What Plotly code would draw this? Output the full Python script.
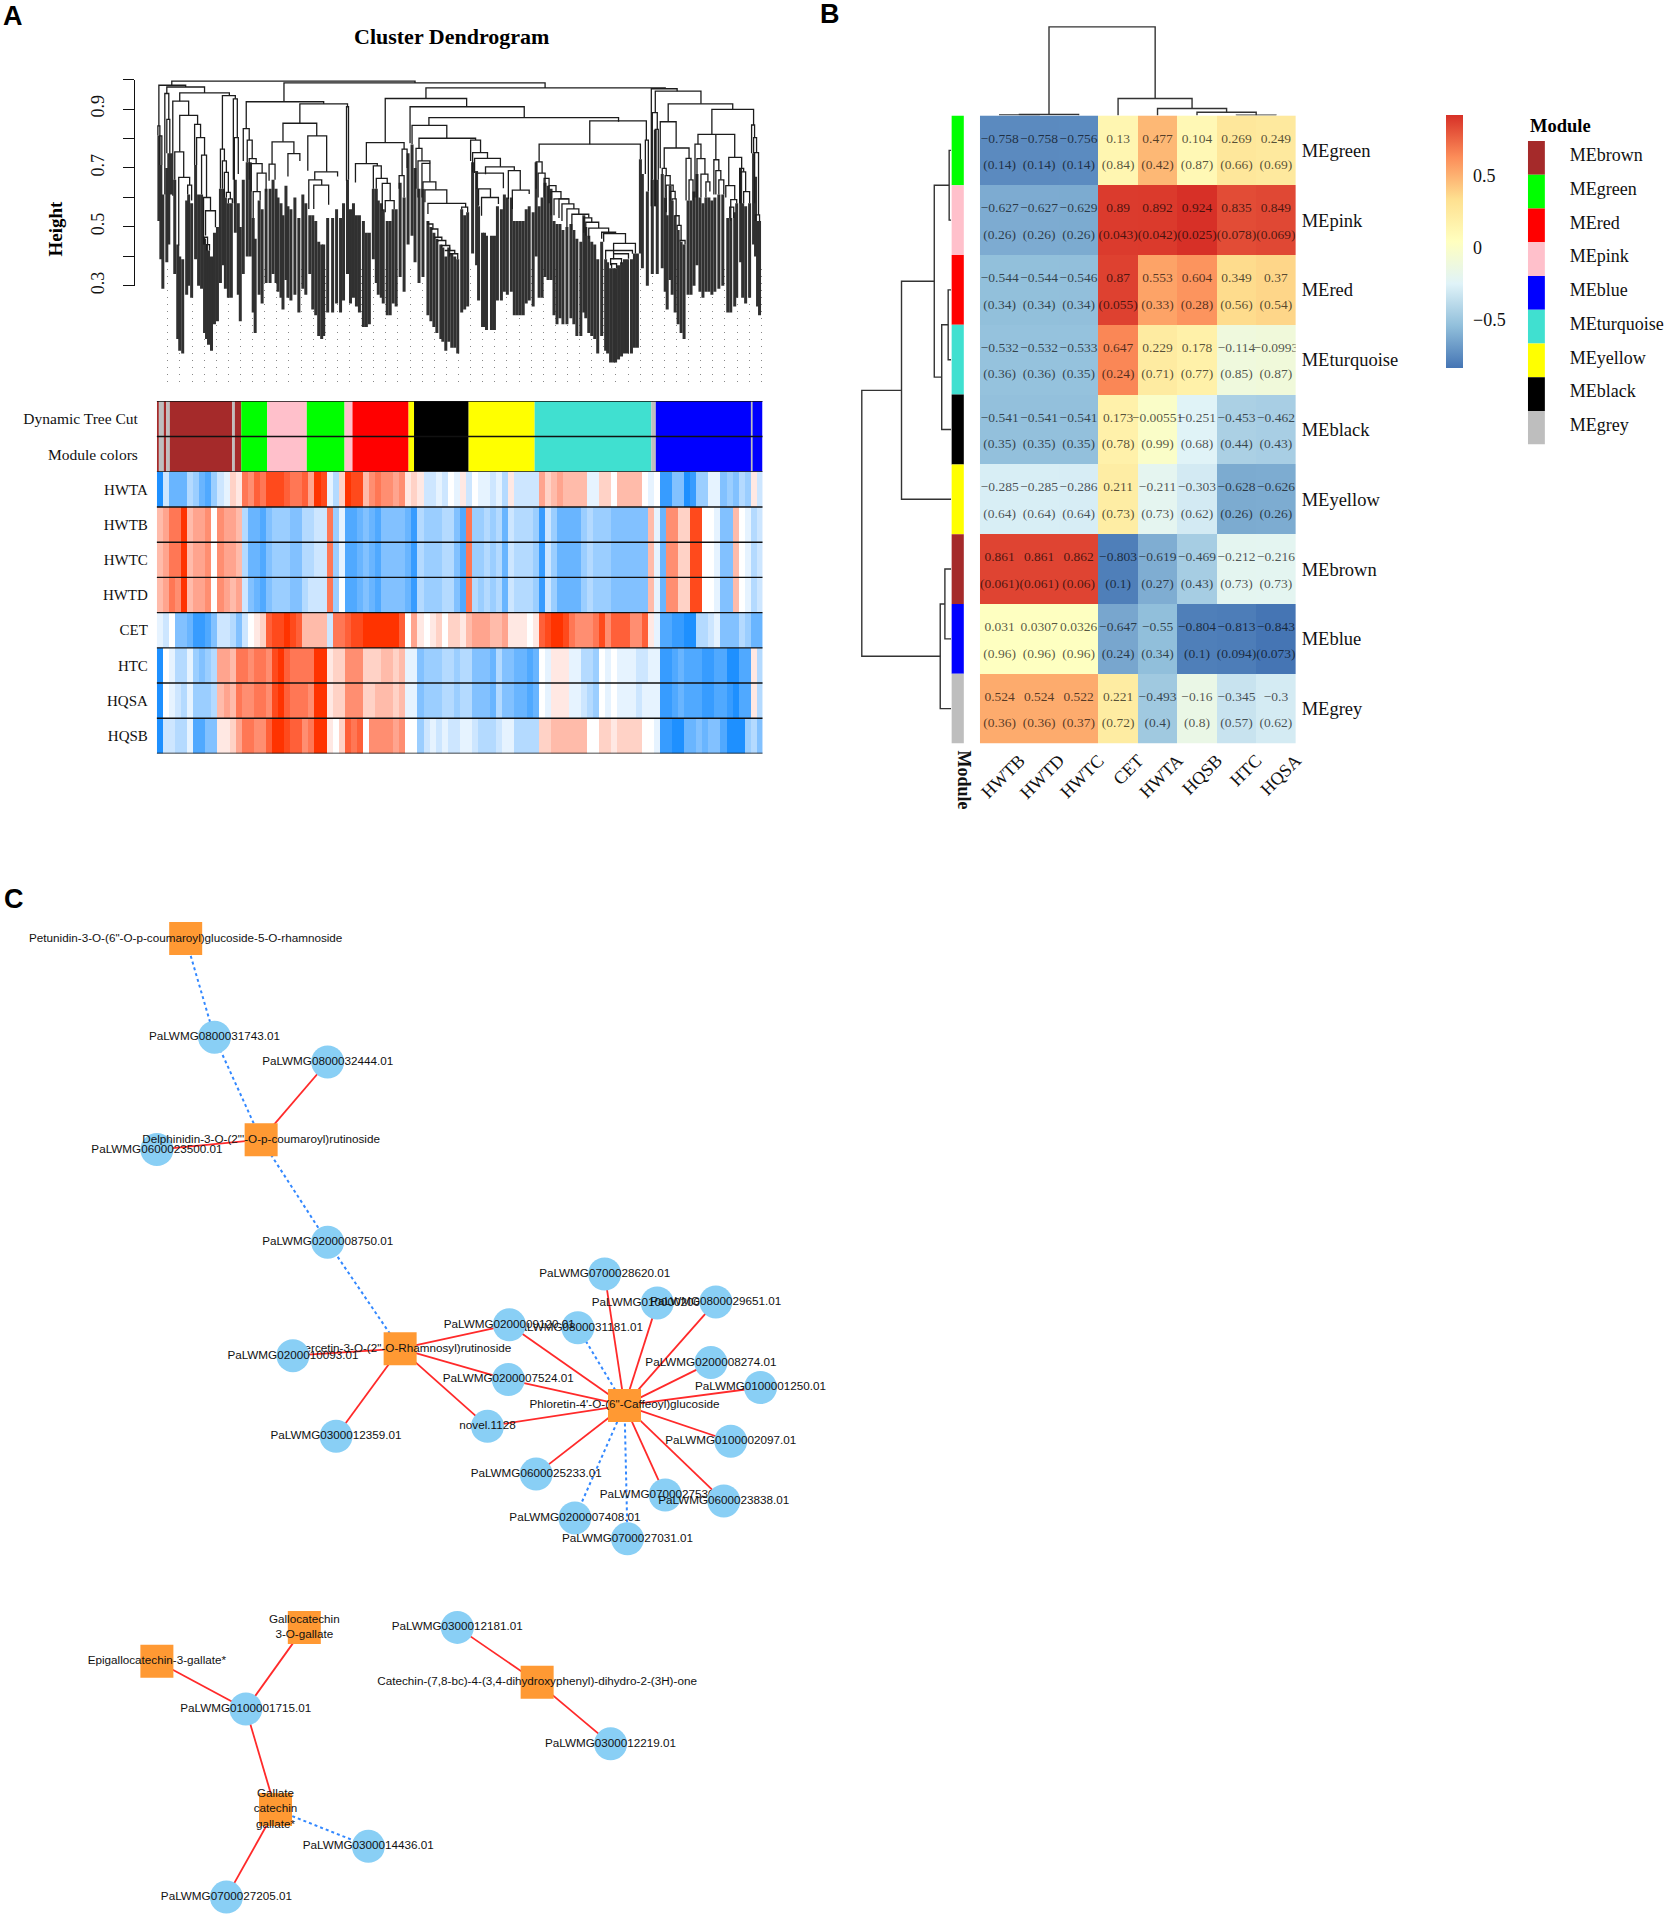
import plotly.graph_objects as go

W, H = 1673, 1931
SERIF = 'Liberation Serif'
SANS = 'Liberation Sans'

# panel A: upper part of the tree, (left x, right x, height, left drop, right drop)
upper_merges = [
    (170, 415, .995, .981, .989), (283, 546, .989, .925, .972), (426, 667, .972, .936, .969),
    (653, 679, .969, .57, .961), (657, 703, .961, .888, .918), (670, 735, .918, .857, .899),
    (714, 756, .899, .814, .846), (654, 659, .888, .66, .831), (657, 660, .831, .57, .66),
    (662, 678, .857, .699, .768), (666, 691, .768, .699, .733), (700, 737, .814, .781, .736),
    (718, 718, .812, .728, .728), (697, 703, .781, .60, .732), (699, 707, .732, .60, .679),
    (703, 710, .679, .60, .653), (708, 712, .653, .60, .62), (716, 721, .728, .61, .691),
    (718, 723, .691, .61, .66), (721, 726, .66, .61, .61), (731, 744, .736, .64, .699),
    (742, 746, .699, .58, .687), (743, 748, .687, .58, .62), (746, 752, .62, .58, .58),
    (728, 737, .64, .60, .593), (733, 739, .593, .52, .58), (732, 736, .567, .53, .53),
    (754, 757, .846, .75, .803), (756, 759, .803, .75, .752), (757, 761, .752, .58, .541),
    (758, 762, .541, .52, .52), (664, 668, .699, .68, .674), (667, 672, .674, .60, .642),
    (668, 675, .642, .55, .621), (672, 677, .621, .59, .595), (674, 678, .595, .59, .538),
    (677, 681, .538, .54, .505), (679, 683, .505, .49, .454), (682, 687, .454, .45, .44),
    (688, 693, .733, .59, .66), (691, 695, .66, .59, .59),
    (157, 184, .981, .843, .975), (165, 203, .975, .953, .955), (163, 167, .953, .61, .865),
    (165, 168, .865, .75, .75), (178, 228, .955, .927, .946), (221, 234, .946, .764, .935),
    (232, 236, .935, .66, .803), (233, 237, .803, .58, .68), (219, 223, .764, .63, .724),
    (221, 225, .724, .63, .685), (223, 227, .685, .60, .617), (225, 229, .617, .60, .595),
    (227, 231, .595, .58, .58), (171, 187, .927, .606, .879), (178, 196, .879, .755, .848),
    (193, 199, .848, .71, .803), (195, 203, .803, .71, .744), (200, 205, .744, .61, .60),
    (202, 209, .60, .44, .555), (204, 214, .555, .471, .499), (173, 182, .755, .66, .668),
    (177, 188, .668, .437, .642), (186, 190, .642, .61, .59), (156, 158, .843, .81, .809),
    (158, 160, .809, .71, .71), (203, 206, .465, .44, .44), (205, 208, .44, .42, .42),
    (245, 323, .925, .834, .918), (299, 347, .918, .852, .908), (346, 348, .908, .657, .66),
    (282, 316, .852, .789, .809), (271, 293, .789, .713, .749), (287, 299, .749, .671, .724),
    (307, 326, .809, .691, .687), (314, 337, .687, .66, .671), (308, 321, .66, .561, .642),
    (313, 328, .642, .561, .575), (242, 248, .834, .724, .795), (246, 251, .795, .72, .732),
    (248, 255, .732, .66, .715), (250, 261, .715, .62, .683), (256, 265, .683, .62, .62),
    (252, 259, .62, .53, .59), (268, 274, .713, .657, .66), (355, 377, .715, .651, .707),
    (366, 404, .786, .715, .764), (373, 381, .707, .63, .665), (376, 387, .665, .63, .648),
    (382, 390, .648, .555, .589), (385, 394, .589, .55, .56), (402, 407, .764, .674, .70),
    (399, 404, .674, .63, .60), (385, 467, .936, .786, .908), (410, 525, .908, .784, .871),
    (429, 620, .871, .845, .857), (412, 447, .845, .781, .801), (419, 476, .801, .767, .795),
    (471, 481, .795, .724, .752), (473, 488, .752, .685, .733), (475, 501, .733, .683, .704),
    (486, 515, .704, .679, .691), (509, 521, .691, .595, .625), (477, 504, .683, .629, .631),
    (479, 491, .629, .572, .60), (482, 499, .60, .538, .578), (513, 530, .625, .561, .612),
    (416, 422, .767, .63, .724), (418, 430, .724, .60, .716), (422, 430, .716, .60, .653),
    (423, 436, .653, .63, .626), (425, 447, .626, .584, .58), (428, 466, .58, .544, .567),
    (428, 433, .51, .52, .493), (432, 438, .493, .49, .465), (435, 442, .465, .46, .454),
    (438, 446, .454, .45, .437), (442, 450, .437, .43, .42), (445, 455, .42, .42, .409),
    (450, 458, .409, .40, .39), (462, 468, .567, .56, .55), (591, 648, .86, .781, .795),
    (540, 642, .781, .721, .73), (647, 650, .795, .68, .62), (537, 543, .721, .63, .683),
    (539, 546, .683, .60, .638), (545, 550, .665, .60, .64), (550, 557, .64, .58, .62),
    (552, 562, .62, .54, .595), (555, 570, .595, .54, .595), (560, 570, .595, .53, .578),
    (563, 575, .578, .52, .561), (568, 580, .561, .50, .543), (573, 590, .543, .49, .531),
    (585, 593, .531, .48, .516), (587, 600, .516, .47, .496), (590, 610, .496, .46, .482),
    (603, 617, .482, .46, .477), (605, 627, .477, .45, .444), (615, 637, .444, .41, .41),
    (607, 634, .42, .39, .409), (615, 630, .409, .39, .392), (612, 623, .392, .37, .375),
    (613, 618, .375, .36, .36),
]

# panel A: leaf teeth, (x, top height, bottom height)
leaves = [
    (157, .81, .52), (159, .71, .39), (161, .61, .29), (165, .70, .38), (167, .75, .44), (169, .75, .61),
    (173, .66, .34), (176, .44, .12), (178, .40, .08), (181, .39, .07), (185, .59, .27), (187, .61, .30),
    (190, .58, .26), (194, .71, .39), (197, .61, .30), (200, .61, .29), (203, .46, .14), (205, .44, .12),
    (207, .42, .10), (210, .40, .08), (213, .48, .17), (216, .50, .18), (219, .63, .31), (222, .63, .37),
    (224, .60, .29), (227, .58, .26), (230, .58, .26), (234, .66, .48), (237, .58, .27), (239, .50, .18),
    (242, .66, .34), (246, .72, .40), (249, .72, .40), (252, .53, .21), (254, .46, .14), (258, .59, .27),
    (261, .56, .24), (265, .63, .31), (269, .63, .31), (272, .66, .34), (275, .63, .31), (277, .60, .28),
    (280, .58, .26), (282, .54, .22), (285, .64, .32), (287, .57, .26), (290, .56, .25), (294, .60, .27),
    (298, .53, .21), (302, .61, .29), (305, .58, .27), (309, .54, .34), (312, .54, .22), (315, .52, .20),
    (318, .45, .13), (321, .44, .12), (323, .44, .13), (327, .53, .21), (332, .53, .21), (336, .56, .24),
    (340, .53, .21), (343, .58, .25), (347, .66, .34), (350, .56, .24), (353, .58, .26), (356, .54, .23),
    (359, .54, .21), (363, .52, .16), (366, .48, .16), (369, .48, .17), (373, .63, .39), (376, .63, .31),
    (378, .59, .27), (381, .58, .26), (383, .56, .24), (387, .52, .20), (390, .52, .20), (393, .56, .24),
    (396, .56, .23), (400, .65, .33), (404, .60, .28), (408, .75, .44), (412, .78, .47), (415, .70, .38),
    (419, .63, .31), (423, .63, .33), (428, .52, .20), (431, .50, .18), (434, .48, .16), (437, .46, .14),
    (441, .44, .12), (443, .43, .11), (446, .40, .08), (449, .43, .11), (452, .41, .09), (455, .40, .09),
    (458, .39, .07), (462, .56, .21), (465, .54, .22), (468, .55, .23), (473, .72, .41), (477, .69, .37),
    (479, .57, .25), (483, .48, .16), (485, .48, .16), (487, .47, .15), (492, .47, .15), (495, .47, .15),
    (498, .57, .25), (502, .56, .25), (505, .61, .28), (508, .60, .27), (512, .60, .28), (515, .52, .20),
    (518, .52, .20), (521, .52, .20), (524, .52, .20), (527, .56, .24), (530, .57, .25), (534, .55, .23),
    (537, .72, .40), (540, .57, .26), (543, .60, .26), (546, .65, .33), (549, .64, .32), (552, .63, .32),
    (555, .52, .20), (558, .51, .17), (561, .51, .19), (564, .49, .17), (568, .50, .17), (572, .51, .19),
    (575, .49, .17), (578, .46, .13), (582, .45, .13), (585, .54, .21), (587, .50, .19), (590, .47, .14),
    (593, .45, .13), (596, .44, .12), (599, .39, .07), (603, .45, .13), (607, .39, .08), (609, .38, .07),
    (612, .36, .04), (615, .36, .04), (617, .36, .04), (620, .37, .05), (623, .38, .06), (626, .39, .07),
    (629, .39, .07), (633, .39, .07), (636, .41, .09), (639, .41, .09), (642, .73, .41), (644, .68, .36),
    (649, .62, .30), (654, .66, .34), (657, .83, .57), (659, .66, .34), (664, .68, .36), (667, .60, .28),
    (669, .54, .22), (672, .64, .32), (674, .59, .27), (677, .54, .21), (680, .49, .17), (683, .45, .14),
    (686, .44, .12), (690, .59, .27), (693, .59, .27), (696, .62, .30), (699, .68, .37), (702, .60, .28),
    (705, .58, .26), (708, .60, .28), (711, .60, .28), (714, .59, .27), (717, .60, .28), (721, .61, .29),
    (725, .61, .30), (730, .53, .21), (733, .53, .21), (737, .55, .23), (739, .58, .26), (743, .70, .38),
    (745, .58, .26), (748, .57, .24), (752, .58, .26), (756, .75, .44), (758, .67, .40), (760, .52, .23),
    (762, .52, .20),
]

module_hex = {
    'brown': '#A52A2A', 'green': '#00FF00', 'red': '#FF0000', 'pink': '#FFC0CB', 'blue': '#0000FF',
    'turquoise': '#40E0D0', 'yellow': '#FFFF00', 'black': '#000000', 'grey': '#BEBEBE',
}

# panel A: colour strip below the tree
strip_modules = ['brown', 'grey', 'brown', 'grey', 'brown', 'grey', 'brown', 'green', 'pink', 'green',
                 'pink', 'red', 'yellow', 'black', 'yellow', 'turquoise', 'grey', 'blue', 'grey', 'blue']
strip_edges = [155, 157, 163, 164.5, 168, 231, 233.5, 240, 266, 306, 344, 352, 408.5, 414, 469,
               535.5, 653, 657.5, 753.5, 755, 765]
strip_rows = ['Dynamic Tree Cut', 'Module colors']

# panel A: trait stripes, -9 (blue) to 9 (red)
trait_rows = ['HWTA', 'HWTB', 'HWTC', 'HWTD', 'CET', 'HTC', 'HQSA', 'HQSB']
hwta = [-9, -2, -6, -6, -6, -3, -4, -6, -7, -4, -2, -1, 2, 1, 6, 5, 7, 6, 8, 8, 8, 7, 6, 6, 7, 4, 9, 8, -1, -3,
        2, 9, 8, 8, 3, 5, 6, 5, 5, 4, 5, 1, 2, 1, -2, -2, -1, -2, 0, -1,
        1, -2, 0, -1, -1, -2, -1, -3, 1, -2, -2, -2, -2, 4, 2, 3, 4, 3, 3, 3, 3, -1, -1, 2, 2, 0, 3, 3, 3, 3,
        0, -1, 0, -8, -8, -5, -5, -9, -8, -4, -4, -1, -1, -5, -4, -5, -3, -4, 1, -2]
hwtb = [3, 4, 6, 6, 9, 3, 4, 4, 5, 0, 5, 4, 4, 3, -3, -6, -6, -7, -5, -4, -4, -4, -5, -5, -3, -3, -2, -2, 6, -4,
        -1, -7, -7, -6, -5, -6, -7, -5, -5, -5, -5, -6, -8, -3, -4, -4, -4, -3, -3, -5,
        -7, 6, -4, -4, -3, -4, -3, -6, -2, -3, -3, -3, -4, -8, -2, -4, -6, -6, -6, -6, -4, -3, -4, -4, -4, -5,
        -5, -5, -5, -5, -5, 3, -1, -6, 5, 5, 2, 2, 8, 8, 0, 0, -1, -5, -5, 3, 0, -1, -3, -2]
hwtc = hwtb
hwtd = [3, 4, 6, 5, 9, 3, 4, 4, 5, 0, 5, 4, 3, 4, -2, -5, -6, -7, -5, -4, -4, -4, -5, -5, -3, -2, -2, -2, 6, -4,
        0, -7, -7, -6, -5, -6, -7, -5, -5, -5, -5, -6, -8, -3, -4, -4, -4, -3, -3, -5,
        -7, 6, -3, -4, -3, -4, -3, -6, -2, -3, -3, -3, -4, -8, -2, -4, -6, -6, -6, -6, -4, -3, -4, -4, -4, -5,
        -5, -5, -5, -5, -5, 3, -1, -6, 5, 5, 2, 2, 8, 8, 0, 0, -1, -5, -5, 3, 0, -1, -3, -2]
cet = [-1, -2, 0, -5, -5, -6, -8, -8, -7, -5, -2, -2, -3, -5, -2, 0, 1, 2, 7, 8, 8, 9, 8, 7, 3, 3, 3, 3, -2, 6,
       6, 7, 8, 8, 9, 9, 9, 9, 9, 9, 7, 0, 4, 1, 0, 1, 2, 0, 2, 2,
       1, 3, 4, 4, 4, 3, 3, 4, 1, 1, 1, 0, 1, 7, 8, 9, 9, 8, 6, 5, 5, 5, 6, 8, 5, 7, 7, 7, 5, 5,
       7, 1, -1, -7, -7, -8, -8, -9, -9, -3, -3, -2, -1, -5, -5, -5, -3, -4, -6, -6]
htc = [-9, 0, -1, -3, -3, -1, -4, -5, -4, -3, 4, 4, 3, 6, 6, 5, 6, 6, 5, 8, 9, 7, 6, 6, 6, 6, 9, 9, 1, 2,
       2, 5, 5, 5, 2, 2, 2, 3, 3, 2, 3, -1, -1, -5, -4, -4, -4, -3, -3, -4,
       -3, -3, -5, -5, -5, -6, -3, -5, -5, -6, -6, -7, -6, 0, -1, 1, 1, 1, -1, -1, -3, -3, -4, 0, -1, 0, -1, -1, -1, -2,
       -2, -1, -1, -8, -8, -7, -6, -7, -7, -7, -8, -8, -7, -7, -9, -9, -7, -7, 1, -3]
hqsa = [-9, 0, -1, -2, -3, -1, -4, -4, -4, -3, 3, 4, 3, 6, 5, 5, 6, 6, 5, 8, 9, 7, 6, 6, 6, 5, 9, 9, 1, 2,
        2, 5, 5, 5, 2, 2, 3, 3, 3, 2, 3, -1, -1, -5, -4, -4, -4, -3, -3, -4,
        -3, -3, -5, -5, -5, -6, -3, -5, -5, -6, -6, -7, -6, 0, -1, 1, 1, 1, -1, -1, -2, -3, -4, 0, -1, 0, -1, -1, -1, -2,
        -1, -1, -1, -8, -8, -7, -6, -7, -7, -7, -8, -8, -7, -7, -8, -9, -7, -7, 1, -3]
hqsb = [-9, -2, -2, -3, -3, -1, -7, -7, -5, -5, 1, 1, 2, 4, 6, 6, 5, 5, 7, 9, 9, 8, 7, 7, 5, 6, 9, 9, 1, 0,
        2, 7, 6, 7, 0, 5, 5, 5, 5, 4, 5, 0, 0, -4, -2, -1, -2, -1, -2, -2,
        -1, -1, -2, -3, -3, -3, -2, -1, -1, -3, -3, -3, -3, 2, 2, 3, 3, 3, 3, 3, 3, 0, 0, 2, 2, 1, 2, 2, 2, 2,
        0, 0, -1, -8, -8, -9, -9, -6, -6, -5, -6, -5, -5, -7, -9, -9, -9, -4, -3, -5]

# panel B
cor_columns = ['HWTB', 'HWTD', 'HWTC', 'CET', 'HWTA', 'HQSB', 'HTC', 'HQSA']
cor_modules = ['green', 'pink', 'red', 'turquoise', 'black', 'yellow', 'brown', 'blue', 'grey']
cor_values = [
    [-.758, -.758, -.756, .13, .477, .104, .269, .249],
    [-.627, -.627, -.629, .89, .892, .924, .835, .849],
    [-.544, -.544, -.546, .87, .553, .604, .349, .37],
    [-.532, -.532, -.533, .647, .229, .178, -.114, -.0993],
    [-.541, -.541, -.541, .173, -.00551, -.251, -.453, -.462],
    [-.285, -.285, -.286, .211, -.211, -.303, -.628, -.626],
    [.861, .861, .862, -.803, -.619, -.469, -.212, -.216],
    [.031, .0307, .0326, -.647, -.55, -.804, -.813, -.843],
    [.524, .524, .522, .221, -.493, -.16, -.345, -.3],
]
cor_pvalues = [
    [.14, .14, .14, .84, .42, .87, .66, .69],
    [.26, .26, .26, .043, .042, .025, .078, .069],
    [.34, .34, .34, .055, .33, .28, .56, .54],
    [.36, .36, .35, .24, .71, .77, .85, .87],
    [.35, .35, .35, .78, .99, .68, .44, .43],
    [.64, .64, .64, .73, .73, .62, .26, .26],
    [.061, .061, .06, .1, .27, .43, .73, .73],
    [.96, .96, .96, .24, .34, .1, .094, .073],
    [.36, .36, .37, .72, .4, .8, .57, .62],
]
legend_modules = ['brown', 'green', 'red', 'pink', 'blue', 'turquoise', 'yellow', 'black', 'grey']
# merges as (left position, right position, height, left drop, right drop)
column_merges = [(0, 1, .6, 0, 0), (.5, 2, 1, .6, 0), (6, 7, .3, 0, 0), (5, 6.5, 3.3, 0, .3),
                 (4, 5.75, 7, 0, 3.3), (3, 4.875, 17, 0, 7), (1.25, 3.94, 89, 1, 17)]
row_merges = [(0, 1, 2, 0, 0), (2, 3, 3, 0, 0), (2.5, 4, 9.5, 3, 0), (.5, 3.25, 17, 2, 9.5),
              (1.875, 5, 50, 17, 0), (6, 7, 6.3, 0, 0), (6.5, 8, 11, 6.3, 0), (3.44, 7.25, 90, 50, 11)]

# panel C
PET = 'Petunidin-3-O-(6"-O-p-coumaroyl)glucoside-5-O-rhamnoside'
DEL = 'Delphinidin-3-O-(2"\'-O-p-coumaroyl)rutinoside'
QUE = 'Quercetin-3-O-(2"-O-Rhamnosyl)rutinoside'
PHL = 'Phloretin-4\'-O-(6"-Caffeoyl)glucoside'
EPI = 'Epigallocatechin-3-gallate*'
GAL = 'Gallocatechin<br>3-O-gallate'
GCG = 'Gallate<br>catechin<br>gallate*'
CAT = 'Catechin-(7,8-bc)-4-(3,4-dihydroxyphenyl)-dihydro-2-(3H)-one'
compounds = [PET, DEL, QUE, PHL, EPI, GAL, GCG, CAT]
compound_x = [184, 260, 400, 626, 155, 303.5, 274.5, 538]
compound_y = [943, 1145, 1355, 1412, 1669, 1635, 1818, 1690]
genes = ['PaLWMG0800031743.01', 'PaLWMG0800032444.01', 'PaLWMG0600023500.01', 'PaLWMG0200008750.01',
         'PaLWMG0200010093.01', 'PaLWMG0300012359.01', 'PaLWMG0800031181.01', 'PaLWMG0200009120.01',
         'PaLWMG0200007524.01', 'novel.1128', 'PaLWMG0700028620.01', 'PaLWMG0100002009.01',
         'PaLWMG0800029651.01', 'PaLWMG0200008274.01', 'PaLWMG0100001250.01', 'PaLWMG0100002097.01',
         'PaLWMG0600025233.01', 'PaLWMG0700027530.01', 'PaLWMG0600023838.01', 'PaLWMG0200007408.01',
         'PaLWMG0700027031.01', 'PaLWMG0100001715.01', 'PaLWMG0300014436.01', 'PaLWMG0700027205.01',
         'PaLWMG0300012181.01', 'PaLWMG0300012219.01']
gene_x = [213, 327, 155, 327, 292, 335.5, 579, 510, 509, 488, 606, 659, 718, 713, 763, 733, 537, 667, 726,
          576, 629, 244.6, 368, 225, 457.6, 612]
gene_y = [1042, 1067, 1155, 1248, 1362, 1443, 1334, 1331, 1386, 1433, 1280, 1309, 1308, 1369, 1394, 1448,
          1481, 1502, 1508, 1525, 1546, 1717, 1855, 1906, 1635, 1752]
positive_edges = [
    (DEL, 'PaLWMG0800032444.01'), (DEL, 'PaLWMG0600023500.01'), (QUE, 'PaLWMG0200010093.01'),
    (QUE, 'PaLWMG0300012359.01'), (QUE, 'PaLWMG0200009120.01'), (QUE, 'PaLWMG0200007524.01'),
    (QUE, 'novel.1128'), (PHL, 'PaLWMG0200009120.01'), (PHL, 'PaLWMG0200007524.01'), (PHL, 'novel.1128'),
    (PHL, 'PaLWMG0700028620.01'), (PHL, 'PaLWMG0100002009.01'), (PHL, 'PaLWMG0800029651.01'),
    (PHL, 'PaLWMG0200008274.01'), (PHL, 'PaLWMG0100001250.01'), (PHL, 'PaLWMG0100002097.01'),
    (PHL, 'PaLWMG0600025233.01'), (PHL, 'PaLWMG0700027530.01'), (PHL, 'PaLWMG0600023838.01'),
    (EPI, 'PaLWMG0100001715.01'), (GAL, 'PaLWMG0100001715.01'), (GCG, 'PaLWMG0100001715.01'),
    (GCG, 'PaLWMG0700027205.01'), (CAT, 'PaLWMG0300012181.01'), (CAT, 'PaLWMG0300012219.01'),
]
negative_edges = [
    (PET, 'PaLWMG0800031743.01'), (DEL, 'PaLWMG0800031743.01'), (DEL, 'PaLWMG0200008750.01'),
    (QUE, 'PaLWMG0200008750.01'), (PHL, 'PaLWMG0800031181.01'), (PHL, 'PaLWMG0200007408.01'),
    (PHL, 'PaLWMG0700027031.01'), (GCG, 'PaLWMG0300014436.01'),
]


def xdom(a, b):
    return [a / W, b / W]


def ydom(top, bottom):
    return [1 - bottom / H, 1 - top / H]


def hidden(**kw):
    return dict(visible=False, **kw)


def merge_path(merges):
    pos, hgt = [], []
    for x0, x1, h, left, right in merges:
        pos += [x0, x0, x1, x1, None]
        hgt += [left, h, h, right, None]
    return pos, hgt


def network_edges(edges):
    lookup = dict(zip(compounds + genes, zip(compound_x + gene_x, compound_y + gene_y)))
    xs, ys = [], []
    for a, b in edges:
        xs += [lookup[a][0], lookup[b][0], None]
        ys += [lookup[a][1], lookup[b][1], None]
    return xs, ys


def fmt(v):
    return f'{v:g}'.replace('-', '\u2212')


fig = go.Figure()

# guide dots sit behind the tree
fig.add_trace(go.Scatter(x=[], y=[], xaxis='x', yaxis='y', showlegend=False))

tree_x, tree_y = [], []
for x, top, bottom in leaves:
    tree_x += [x, x, None]
    tree_y += [top, bottom, None]
fig.add_trace(go.Scatter(x=tree_x, y=tree_y, mode='lines', line=dict(color='#303030', width=3),
                         xaxis='x2', yaxis='y2', showlegend=False, hoverinfo='skip'))
mx, my = merge_path(upper_merges)
fig.add_trace(go.Scatter(x=mx, y=my, mode='lines', line=dict(color='#1c1c1c', width=1.3),
                         xaxis='x2', yaxis='y2', showlegend=False, hoverinfo='skip'))
fig.add_trace(go.Scatter(x=[], y=[], xaxis='x2', yaxis='y3', showlegend=False))

starts = strip_edges[:-1]
widths = [b - a for a, b in zip(strip_edges[:-1], strip_edges[1:])]
strip_colors = [module_hex[m] for m in strip_modules]
for r in range(len(strip_rows)):
    fig.add_trace(go.Bar(x=widths, base=starts, y=[r] * len(widths), orientation='h', width=1,
                         marker=dict(color=strip_colors, line=dict(width=0)),
                         xaxis='x3', yaxis='y4', showlegend=False))

fig.add_trace(go.Heatmap(z=[hwta, hwtb, hwtc, hwtd, cet, htc, hqsa, hqsb], zmin=-9, zmax=9,
                         colorscale=[[0, '#1E90FF'], [.5, '#FFFFFF'], [1, '#FF3300']],
                         showscale=False, xaxis='x4', yaxis='y5'))

# panel B
cx, cy = merge_path(column_merges)
fig.add_trace(go.Scatter(x=cx, y=cy, mode='lines', line=dict(color='#333333', width=1.4),
                         xaxis='x5', yaxis='y6', showlegend=False))
rpos, rh = merge_path(row_merges)
fig.add_trace(go.Scatter(x=rh, y=rpos, mode='lines', line=dict(color='#333333', width=1.4),
                         xaxis='x6', yaxis='y7', showlegend=False))
fig.add_trace(go.Bar(x=[1] * len(cor_modules), y=list(range(len(cor_modules))), orientation='h', width=1,
                     marker=dict(color=[module_hex[m] for m in cor_modules], line=dict(width=0)),
                     xaxis='x7', yaxis='y8', showlegend=False))
fig.add_trace(go.Heatmap(
    z=cor_values, zmin=-.843, zmax=.924,
    colorscale=[[0, '#4575B4'], [1 / 6, '#91BFDB'], [2 / 6, '#E0F3F8'], [3 / 6, '#FFFFBF'],
                [4 / 6, '#FEE090'], [5 / 6, '#FC8D59'], [1, '#D73027']],
    xaxis='x8', yaxis='y9',
    colorbar=dict(
        thicknessmode='pixels', thickness=17, lenmode='pixels', len=253, x=1453.6 / W, xanchor='left',
        xpad=0, ypad=0, y=1 - 116 / H, yanchor='top', outlinewidth=0,
        ticks='outside', ticklen=7, tickcolor='rgba(0,0,0,0)',
        tickvals=[-.5, 0, .5], ticktext=['\u22120.5', '0', '0.5'],
        tickfont=dict(family=SERIF, size=18, color='#111111'),
    ),
))
text_x, text_y, text_cor, text_py, text_pt = [], [], [], [], []
for r, (vals, ps) in enumerate(zip(cor_values, cor_pvalues)):
    for c, (v, p) in enumerate(zip(vals, ps)):
        text_x.append(c)
        text_y.append(r - .16)
        text_py.append(r + .22)
        text_cor.append(fmt(v))
        text_pt.append(f'({fmt(p)})')
cell_font = dict(family=SERIF, size=13.5, color='rgba(0,0,0,0.68)')
fig.add_trace(go.Scatter(x=text_x, y=text_y, text=text_cor, mode='text', textfont=cell_font,
                         xaxis='x8', yaxis='y9', showlegend=False))
fig.add_trace(go.Scatter(x=text_x, y=text_py, text=text_pt, mode='text', textfont=cell_font,
                         xaxis='x8', yaxis='y9', showlegend=False))
fig.add_trace(go.Bar(x=[1] * len(legend_modules), y=list(range(len(legend_modules))), orientation='h', width=1,
                     marker=dict(color=[module_hex[m] for m in legend_modules], line=dict(width=0)),
                     xaxis='x9', yaxis='y10', showlegend=False))

# panel C
ex, ey = network_edges(positive_edges)
fig.add_trace(go.Scatter(x=ex, y=ey, mode='lines', line=dict(color='#FF2A2A', width=1.8),
                         xaxis='x10', yaxis='y11', showlegend=False))
ex, ey = network_edges(negative_edges)
fig.add_trace(go.Scatter(x=ex, y=ey, mode='lines', line=dict(color='#3388FF', width=2, dash='dot'),
                         xaxis='x10', yaxis='y11', showlegend=False))
node_font = dict(family=SANS, size=11.7, color='#111111')
node_labels = compounds + genes
node_xs = compound_x + gene_x
node_ys = compound_y + gene_y
node_square = [True] * len(compounds) + [False] * len(genes)
# Delphinidin's label runs over a gene circle, so it goes on last
for label, x, y, square in sorted(zip(node_labels, node_xs, node_ys, node_square), key=lambda n: n[0] == DEL):
    fig.add_trace(go.Scatter(
        x=[x], y=[y], text=[label], mode='markers+text', textposition='middle center', textfont=node_font,
        marker=dict(symbol='square' if square else 'circle', size=33,
                    color='#FF9933' if square else '#89CFF5', line=dict(width=0)),
        xaxis='x10', yaxis='y11', showlegend=False, cliponaxis=False,
    ))

tick_font = dict(family=SERIF, size=15, color='#111111')
fig.update_layout(
    width=W, height=H, margin=dict(l=0, r=0, t=0, b=0), paper_bgcolor='white', plot_bgcolor='rgba(0,0,0,0)',
    barmode='overlay', showlegend=False,
    # tree guides
    xaxis=dict(domain=xdom(155, 765), range=[155, 765], anchor='y', showticklabels=False, ticks='', showline=False,
               zeroline=False, showgrid=True, tick0=166, dtick=12.2, griddash='1px,6px', gridcolor='#888888',
               gridwidth=1),
    yaxis=hidden(domain=ydom(270, 390), range=[0, 1], anchor='x'),
    # tree
    xaxis2=hidden(domain=xdom(155, 765), range=[155, 765], anchor='y2'),
    yaxis2=hidden(domain=ydom(60, 400), range=[-.0811, 1.0676], anchor='x2'),
    yaxis3=dict(domain=ydom(80, 287), range=[.3, 1], anchor='free', position=132 / W, showline=True,
                linecolor='#111111', linewidth=1.3, ticks='outside', ticklen=11, tickcolor='#111111', tickwidth=1.3,
                tickvals=[.3, .4, .5, .6, .7, .8, .9, 1],
                ticktext=['0.3', '', '0.5', '', '0.7', '', '0.9', ''], tickangle=-90, showgrid=False, zeroline=False,
                ticklabelstandoff=12, tickfont=dict(family=SERIF, size=18, color='#111111')),
    # strip
    xaxis3=hidden(domain=xdom(155, 765), range=[155, 765], anchor='y4'),
    yaxis4=dict(domain=ydom(403, 474), range=[1.5, -.5], anchor='x3', tickvals=[0, 1], ticktext=strip_rows,
                showgrid=False, zeroline=False, ticks='', ticklabelstandoff=18,
                tickfont=dict(family=SERIF, size=15.5, color='#111111')),
    # trait stripes
    xaxis4=hidden(domain=xdom(155, 765), range=[-.5, 99.5], anchor='y5'),
    yaxis5=dict(domain=ydom(474, 757), range=[7.5, -.5], anchor='x4', tickvals=list(range(8)), ticktext=trait_rows,
                showgrid=False, zeroline=False, ticks='', ticklabelstandoff=8, tickfont=tick_font),
    # panel B
    xaxis5=hidden(domain=xdom(984, 1302), range=[-.5, 7.5], anchor='y6'),
    yaxis6=hidden(domain=ydom(22, 116), range=[0, 94], anchor='x5'),
    xaxis6=hidden(domain=xdom(860, 955), range=[95, 0], anchor='y7'),
    yaxis7=hidden(domain=ydom(116, 747), range=[8.5, -.5], anchor='x6'),
    xaxis7=dict(domain=xdom(955.5, 980), range=[.5, 1.5], anchor='y8', tickvals=[1], ticktext=['<b>Module</b>'],
                tickangle=90, showgrid=False, zeroline=False, ticks='', ticklabelstandoff=6,
                tickfont=dict(family=SERIF, size=18, color='#111111')),
    yaxis8=hidden(domain=ydom(116, 747), range=[8.5, -.5], anchor='x7'),
    xaxis8=dict(domain=xdom(984, 1302), range=[-.5, 7.5], anchor='y9', tickvals=list(range(8)), ticktext=cor_columns,
                tickangle=-45, ticks='', showgrid=False, zeroline=False, ticklabelshift=20, ticklabelstandoff=2,
                tickfont=dict(family=SERIF, size=18, color='#111111')),
    yaxis9=dict(domain=ydom(116, 747), range=[8.5, -.5], anchor='x8', side='right', tickvals=list(range(9)),
                ticktext=['ME' + m for m in cor_modules], ticks='', showgrid=False, zeroline=False,
                ticklabelstandoff=5, tickfont=dict(family=SERIF, size=18.5, color='#111111')),
    # module key
    xaxis9=hidden(domain=xdom(1536, 1570), range=[.5, 1.5], anchor='y10'),
    yaxis10=dict(domain=ydom(141.7, 446.7), range=[8.5, -.5], anchor='x9', side='right',
                 tickvals=list(range(9)), ticktext=['ME' + m for m in legend_modules], ticks='', showgrid=False,
                 zeroline=False, ticklabelstandoff=7, ticklabelshift=3,
                 tickfont=dict(family=SERIF, size=18, color='#111111')),
    # network
    xaxis10=hidden(domain=xdom(0, 900), range=[0, 900], anchor='y11'),
    yaxis11=hidden(domain=ydom(900, 1931), range=[1931, 900], anchor='x10'),
)

# row separators
for yref, xref, lines in [('y4', 'x3 domain', [-.5, .5, 1.5]),
                          ('y5', 'x4 domain', [.5, 1.5, 2.5, 3.5, 4.5, 5.5, 6.5, 7.5])]:
    for pos in lines:
        fig.add_shape(type='line', xref=xref, yref=yref, x0=0, x1=1, y0=pos, y1=pos,
                      line=dict(color='#111111', width=1.4))


def note(text, x, y, size, family=SERIF, angle=0, anchor='center'):
    fig.add_annotation(text=text, x=x / W, y=1 - y / H, xref='paper', yref='paper', showarrow=False,
                       xanchor=anchor, yanchor='middle', textangle=angle,
                       font=dict(family=family, size=size, color='#000000'))


note('<b>A</b>', 10, 16, 27, SANS)
note('<b>B</b>', 833, 14, 27, SANS)
note('<b>C</b>', 11, 903, 27, SANS)
note('<b>Cluster Dendrogram</b>', 452, 37, 22)
note('<b>Height</b>', 53, 230, 19, angle=-90)
note('<b>Module</b>', 1536, 127, 18.5, anchor='left')

page_reset = ("document.documentElement.style.overflow='hidden';"
              "document.body.style.overflow='hidden';"
              "document.body.style.margin='0';"
              "document.body.style.height='1931px';")
fig.write_html('out.html', config={'displayModeBar': False}, post_script=page_reset)
